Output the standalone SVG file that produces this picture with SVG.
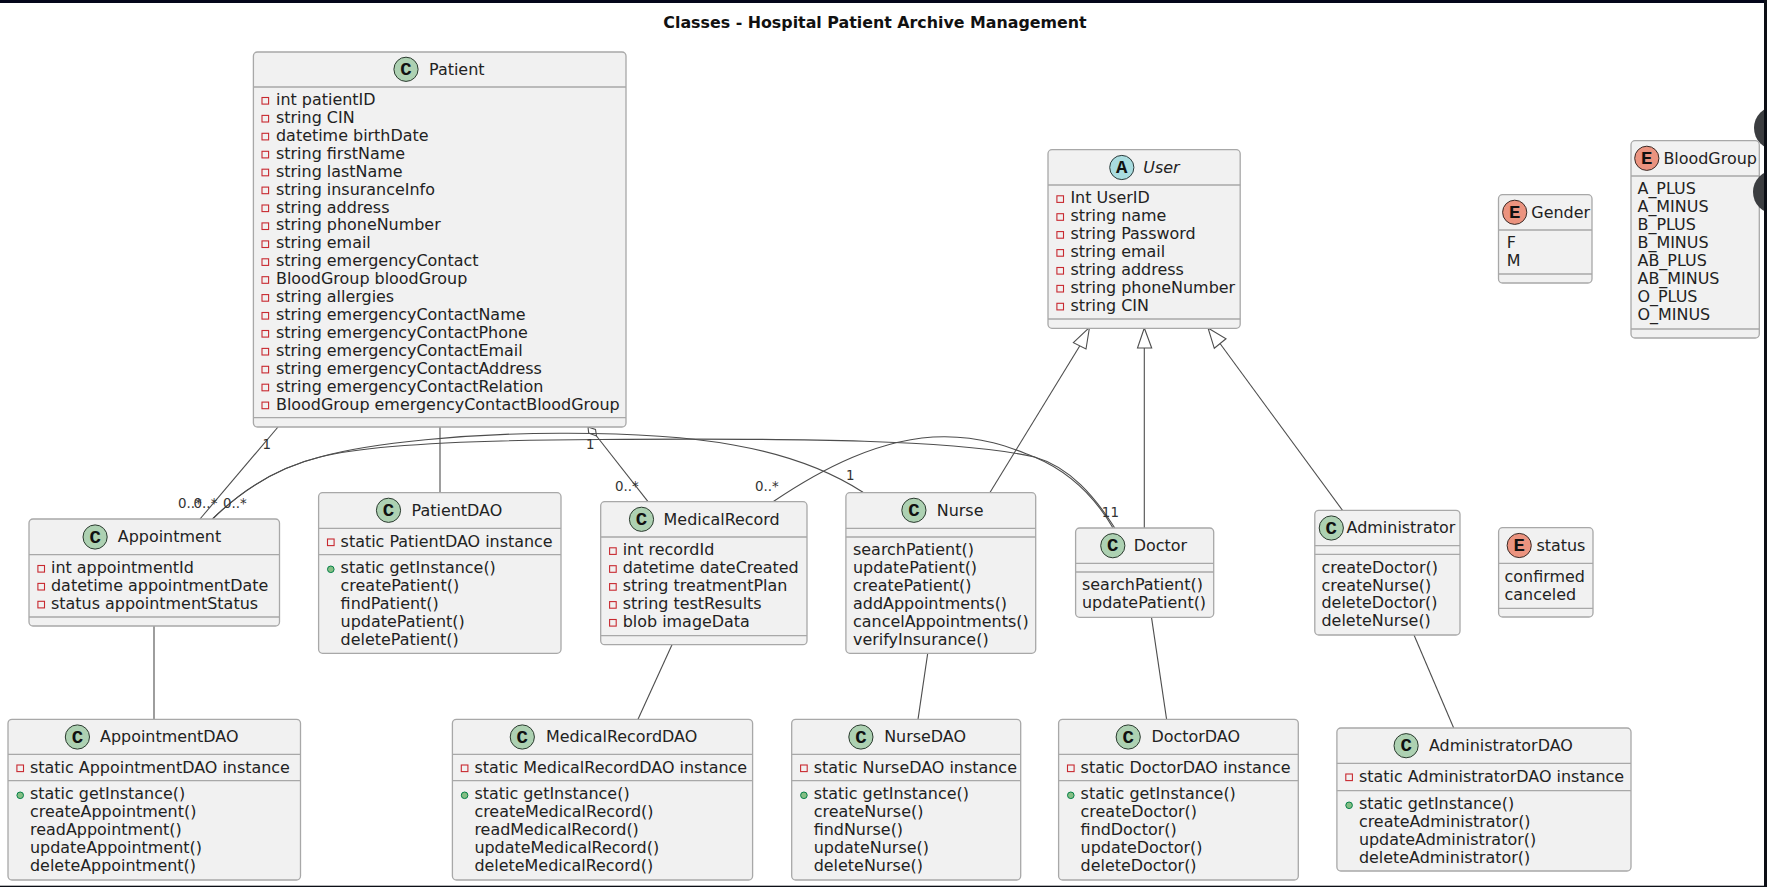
<svg xmlns="http://www.w3.org/2000/svg" width="1767" height="887" viewBox="0 0 1767 887">
<style>
text{font-family:"DejaVu Sans",sans-serif;font-size:15.95px;fill:#222}
.title{font-weight:bold;font-size:15.85px;fill:#111}
.i{font-style:italic}
.lbl{font-size:13.4px;fill:#333}
.box{fill:#F1F1F1;stroke:#a8a8a8;stroke-width:1.3}
.div{stroke:#a8a8a8;stroke-width:1.3;fill:none}
.sp{fill:#ADD1B2;stroke:#2a3a2e;stroke-width:1}
.se{fill:#EB937F;stroke:#3a2a26;stroke-width:1}
.sa{fill:#A9DCDF;stroke:#2a3a3a;stroke-width:1}
.g{font-family:"Liberation Mono",monospace;font-weight:bold;font-size:19px;text-anchor:middle;fill:#111}
.c{fill:none;stroke:#4d4d4d;stroke-width:1.1}
.h{fill:#fff;stroke:#4d4d4d;stroke-width:1.1}
</style>
<defs>
<rect id="vpriv" width="6.6" height="6.6" fill="none" stroke="#C82930" stroke-width="1.1"/>
<circle id="vpub" cx="3.3" cy="3.3" r="3.3" fill="#84BE84" stroke="#038048" stroke-width="1"/>
</defs>
<rect width="1767" height="887" fill="#fff"/>
<text class="title" x="875" y="28" text-anchor="middle">Classes - Hospital Patient Archive Management</text>

<g id="connectors">
<path class="c" d="M278,427L200,519"/>
<path class="c" d="M440,427V492.7"/>
<path class="h" d="M588,427L595.5,429.5L596.5,436L588.7,433Z"/>
<path class="c" d="M596.5,436L648,501.7"/>
<path class="c" d="M212.5,519C240,492 275,468 320,457C370,443 470,433 564,433.3C690,433 790,445 863,492.3"/>
<path class="c" d="M212.5,519C240,492 275,468 320,457C370,444 480,440 600,439.5C800,438 960,440 1034.5,457C1070,467 1095,497 1114.8,528"/>
<path class="c" d="M773,501.7C820,470 880,437 944,436.7C990,436.5 1020,452 1034.5,457C1070,472 1095,497 1113,528"/>
<path class="c" d="M989.8,492.7L1079.7,346"/>
<path class="h" d="M1089.5,327.3L1073.4,342.7L1086,349Z"/>
<path class="c" d="M1144.3,528V348"/>
<path class="h" d="M1144.3,328L1137.5,348H1151.7Z"/>
<path class="c" d="M1342.5,510.3L1220,343.5"/>
<path class="h" d="M1208,328L1226,338.7L1214.3,348.3Z"/>
<path class="c" d="M154,626V719.3"/>
<path class="c" d="M672,644.7L638,719.3"/>
<path class="c" d="M927.7,653.3L918,719.3"/>
<path class="c" d="M1151.5,617.3L1166.6,719.3"/>
<path class="c" d="M1414,635L1453.7,728"/>
<text class="lbl" x="262.5" y="449">1</text>
<text class="lbl" x="586" y="449">1</text>
<text class="lbl" x="615" y="490.7">0..*</text>
<text class="lbl" x="755" y="490.7">0..*</text>
<text class="lbl" x="846" y="480">1</text>
<text class="lbl" x="1101.7" y="516.7">1</text>
<text class="lbl" x="1110.5" y="516.7">1</text>
<text class="lbl" x="178" y="508">0..*</text>
<text class="lbl" x="193.6" y="508">0..*</text>
<text class="lbl" x="223" y="508">0..*</text>
</g>

<g id="Patient">
<rect class="box" x="253.4" y="52" width="372.6" height="375" rx="4"/>
<path class="div" d="M253.4,87H626M253.4,417.7H626"/>
<circle class="sp" cx="406" cy="69.3" r="12.1"/><text class="g" x="406" y="75">C</text>
<text x="429" y="75">Patient</text>
<use href="#vpriv" x="262" y="97.5"/><text x="276" y="105">int patientID</text>
<use href="#vpriv" x="262" y="115.4"/><text x="276" y="122.9">string CIN</text>
<use href="#vpriv" x="262" y="133.3"/><text x="276" y="140.8">datetime birthDate</text>
<use href="#vpriv" x="262" y="151.3"/><text x="276" y="158.8">string firstName</text>
<use href="#vpriv" x="262" y="169.2"/><text x="276" y="176.7">string lastName</text>
<use href="#vpriv" x="262" y="187.1"/><text x="276" y="194.6">string insuranceInfo</text>
<use href="#vpriv" x="262" y="205"/><text x="276" y="212.5">string address</text>
<use href="#vpriv" x="262" y="222.9"/><text x="276" y="230.4">string phoneNumber</text>
<use href="#vpriv" x="262" y="240.9"/><text x="276" y="248.4">string email</text>
<use href="#vpriv" x="262" y="258.8"/><text x="276" y="266.3">string emergencyContact</text>
<use href="#vpriv" x="262" y="276.7"/><text x="276" y="284.2">BloodGroup bloodGroup</text>
<use href="#vpriv" x="262" y="294.6"/><text x="276" y="302.1">string allergies</text>
<use href="#vpriv" x="262" y="312.5"/><text x="276" y="320">string emergencyContactName</text>
<use href="#vpriv" x="262" y="330.5"/><text x="276" y="338">string emergencyContactPhone</text>
<use href="#vpriv" x="262" y="348.4"/><text x="276" y="355.9">string emergencyContactEmail</text>
<use href="#vpriv" x="262" y="366.3"/><text x="276" y="373.8">string emergencyContactAddress</text>
<use href="#vpriv" x="262" y="384.2"/><text x="276" y="391.7">string emergencyContactRelation</text>
<use href="#vpriv" x="262" y="402.1"/><text x="276" y="409.6">BloodGroup emergencyContactBloodGroup</text>
</g>

<g id="Appointment">
<rect class="box" x="29" y="519" width="250.5" height="107" rx="4"/>
<path class="div" d="M29,554.7H279.5M29,617H279.5"/>
<circle class="sp" cx="95.1" cy="537" r="12.1"/><text class="g" x="95.1" y="542.7">C</text>
<text x="117.8" y="542">Appointment</text>
<use href="#vpriv" x="37.9" y="565.5"/><text x="51" y="573">int appointmentId</text>
<use href="#vpriv" x="37.9" y="583.4"/><text x="51" y="590.9">datetime appointmentDate</text>
<use href="#vpriv" x="37.9" y="601.3"/><text x="51" y="608.8">status appointmentStatus</text>
</g>

<g id="AppointmentDAO">
<rect class="box" x="8" y="719.3" width="292.5" height="160.7" rx="4"/>
<path class="div" d="M8,754.3H300.5M8,780.7H300.5"/>
<circle class="sp" cx="77.4" cy="737" r="12.1"/><text class="g" x="77.4" y="742.7">C</text>
<text x="100" y="742.3">AppointmentDAO</text>
<use href="#vpriv" x="16.9" y="765"/><text x="30" y="772.6">static AppointmentDAO instance</text>
<use href="#vpub" x="16.9" y="792"/><text x="30" y="799">static getInstance()</text>
<text x="30" y="816.9">createAppointment()</text>
<text x="30" y="834.8">readAppointment()</text>
<text x="30" y="852.8">updateAppointment()</text>
<text x="30" y="870.7">deleteAppointment()</text>
</g>

<g id="PatientDAO">
<rect class="box" x="318.6" y="492.7" width="242.4" height="160.6" rx="4"/>
<path class="div" d="M318.6,528.3H561M318.6,554.7H561"/>
<circle class="sp" cx="388.5" cy="510.3" r="12.1"/><text class="g" x="388.5" y="516">C</text>
<text x="411.6" y="515.7">PatientDAO</text>
<use href="#vpriv" x="327.5" y="539"/><text x="340.6" y="546.6">static PatientDAO instance</text>
<use href="#vpub" x="327.5" y="566"/><text x="340.6" y="573">static getInstance()</text>
<text x="340.6" y="590.9">createPatient()</text>
<text x="340.6" y="608.8">findPatient()</text>
<text x="340.6" y="626.8">updatePatient()</text>
<text x="340.6" y="644.7">deletePatient()</text>
</g>

<g id="MedicalRecord">
<rect class="box" x="600.7" y="501.7" width="206.3" height="143" rx="4"/>
<path class="div" d="M600.7,537H807M600.7,635.7H807"/>
<circle class="sp" cx="641.5" cy="519.3" r="12.1"/><text class="g" x="641.5" y="525">C</text>
<text x="663.6" y="525">MedicalRecord</text>
<use href="#vpriv" x="609.6" y="547.8"/><text x="622.7" y="555.3">int recordId</text>
<use href="#vpriv" x="609.6" y="565.7"/><text x="622.7" y="573.2">datetime dateCreated</text>
<use href="#vpriv" x="609.6" y="583.6"/><text x="622.7" y="591.1">string treatmentPlan</text>
<use href="#vpriv" x="609.6" y="601.6"/><text x="622.7" y="609.1">string testResults</text>
<use href="#vpriv" x="609.6" y="619.5"/><text x="622.7" y="627">blob imageData</text>
</g>

<g id="Nurse">
<rect class="box" x="845.9" y="492.7" width="189.8" height="160.6" rx="4"/>
<path class="div" d="M845.9,528.3H1035.7M845.9,537H1035.7"/>
<circle class="sp" cx="913.9" cy="510.3" r="12.1"/><text class="g" x="913.9" y="516">C</text>
<text x="936.8" y="515.7">Nurse</text>
<text x="853" y="555.3">searchPatient()</text>
<text x="853" y="573.2">updatePatient()</text>
<text x="853" y="591.1">createPatient()</text>
<text x="853" y="609.1">addAppointments()</text>
<text x="853" y="627">cancelAppointments()</text>
<text x="853" y="644.9">verifyInsurance()</text>
</g>

<g id="Doctor">
<rect class="box" x="1075.6" y="528" width="138.1" height="89.3" rx="4"/>
<path class="div" d="M1075.6,563.3H1213.7M1075.6,572H1213.7"/>
<circle class="sp" cx="1112.8" cy="545.7" r="12.1"/><text class="g" x="1112.8" y="551.4">C</text>
<text x="1133.7" y="551">Doctor</text>
<text x="1082" y="590.3">searchPatient()</text>
<text x="1082" y="608.2">updatePatient()</text>
</g>

<g id="Administrator">
<rect class="box" x="1314.8" y="510.3" width="145.2" height="124.7" rx="4"/>
<path class="div" d="M1314.8,545.7H1460M1314.8,554.3H1460"/>
<circle class="sp" cx="1331.3" cy="528" r="12.1"/><text class="g" x="1331.3" y="533.7">C</text>
<text x="1346.6" y="533.3">Administrator</text>
<text x="1321.5" y="572.6">createDoctor()</text>
<text x="1321.5" y="590.5">createNurse()</text>
<text x="1321.5" y="608.4">deleteDoctor()</text>
<text x="1321.5" y="626.4">deleteNurse()</text>
</g>

<g id="MedicalRecordDAO">
<rect class="box" x="452.4" y="719.3" width="300.2" height="160.7" rx="4"/>
<path class="div" d="M452.4,754.3H752.6M452.4,780.7H752.6"/>
<circle class="sp" cx="522.3" cy="737" r="12.1"/><text class="g" x="522.3" y="742.7">C</text>
<text x="545.9" y="742.3">MedicalRecordDAO</text>
<use href="#vpriv" x="461.3" y="765"/><text x="474.4" y="772.6">static MedicalRecordDAO instance</text>
<use href="#vpub" x="461.3" y="792"/><text x="474.4" y="799">static getInstance()</text>
<text x="474.4" y="816.9">createMedicalRecord()</text>
<text x="474.4" y="834.8">readMedicalRecord()</text>
<text x="474.4" y="852.8">updateMedicalRecord()</text>
<text x="474.4" y="870.7">deleteMedicalRecord()</text>
</g>

<g id="NurseDAO">
<rect class="box" x="791.7" y="719.3" width="229" height="160.7" rx="4"/>
<path class="div" d="M791.7,754.3H1020.7M791.7,780.7H1020.7"/>
<circle class="sp" cx="860.9" cy="737" r="12.1"/><text class="g" x="860.9" y="742.7">C</text>
<text x="884.2" y="742.3">NurseDAO</text>
<use href="#vpriv" x="800.6" y="765"/><text x="813.7" y="772.6">static NurseDAO instance</text>
<use href="#vpub" x="800.6" y="792"/><text x="813.7" y="799">static getInstance()</text>
<text x="813.7" y="816.9">createNurse()</text>
<text x="813.7" y="834.8">findNurse()</text>
<text x="813.7" y="852.8">updateNurse()</text>
<text x="813.7" y="870.7">deleteNurse()</text>
</g>

<g id="DoctorDAO">
<rect class="box" x="1058.6" y="719.3" width="239.7" height="160.7" rx="4"/>
<path class="div" d="M1058.6,754.3H1298.3M1058.6,780.7H1298.3"/>
<circle class="sp" cx="1128.2" cy="737" r="12.1"/><text class="g" x="1128.2" y="742.7">C</text>
<text x="1151.5" y="742.3">DoctorDAO</text>
<use href="#vpriv" x="1067.5" y="765"/><text x="1080.6" y="772.6">static DoctorDAO instance</text>
<use href="#vpub" x="1067.5" y="792"/><text x="1080.6" y="799">static getInstance()</text>
<text x="1080.6" y="816.9">createDoctor()</text>
<text x="1080.6" y="834.8">findDoctor()</text>
<text x="1080.6" y="852.8">updateDoctor()</text>
<text x="1080.6" y="870.7">deleteDoctor()</text>
</g>

<g id="AdministratorDAO">
<rect class="box" x="1336.9" y="728" width="294.1" height="143" rx="4"/>
<path class="div" d="M1336.9,763.3H1631M1336.9,790.7H1631"/>
<circle class="sp" cx="1406.1" cy="745.7" r="12.1"/><text class="g" x="1406.1" y="751.4">C</text>
<text x="1429" y="751">AdministratorDAO</text>
<use href="#vpriv" x="1345.8" y="774"/><text x="1358.9" y="781.6">static AdministratorDAO instance</text>
<use href="#vpub" x="1345.8" y="802"/><text x="1358.9" y="809">static getInstance()</text>
<text x="1358.9" y="826.9">createAdministrator()</text>
<text x="1358.9" y="844.8">updateAdministrator()</text>
<text x="1358.9" y="862.8">deleteAdministrator()</text>
</g>

<g id="User">
<rect class="box" x="1048" y="149.7" width="192.2" height="178.6" rx="4"/>
<path class="div" d="M1048,185H1240.2M1048,319H1240.2"/>
<circle class="sa" cx="1121.8" cy="167.5" r="12.1"/><text class="g" x="1121.8" y="173.2">A</text>
<text class="i" x="1143.3" y="173">User</text>
<use href="#vpriv" x="1056.9" y="195.8"/><text x="1070.4" y="203.3">Int UserID</text>
<use href="#vpriv" x="1056.9" y="213.7"/><text x="1070.4" y="221.2">string name</text>
<use href="#vpriv" x="1056.9" y="231.6"/><text x="1070.4" y="239.1">string Password</text>
<use href="#vpriv" x="1056.9" y="249.6"/><text x="1070.4" y="257.1">string email</text>
<use href="#vpriv" x="1056.9" y="267.5"/><text x="1070.4" y="275">string address</text>
<use href="#vpriv" x="1056.9" y="285.4"/><text x="1070.4" y="292.9">string phoneNumber</text>
<use href="#vpriv" x="1056.9" y="303.3"/><text x="1070.4" y="310.8">string CIN</text>
</g>

<g id="Gender">
<rect class="box" x="1498.5" y="194.7" width="93.5" height="88.3" rx="4"/>
<path class="div" d="M1498.5,230H1592M1498.5,274H1592"/>
<circle class="se" cx="1514.7" cy="212.3" r="12.1"/><text class="g" x="1514.7" y="218">E</text>
<text x="1531.3" y="217.7">Gender</text>
<text x="1506.8" y="248.3">F</text>
<text x="1506.8" y="266.2">M</text>
</g>

<g id="BloodGroup">
<rect class="box" x="1631" y="140.7" width="128.3" height="197.3" rx="4"/>
<path class="div" d="M1631,176H1759.3M1631,329H1759.3"/>
<circle class="se" cx="1646.8" cy="158.3" r="12.1"/><text class="g" x="1646.8" y="164">E</text>
<text x="1663.4" y="163.7">BloodGroup</text>
<text x="1637.5" y="194.3">A_PLUS</text>
<text x="1637.5" y="212.2">A_MINUS</text>
<text x="1637.5" y="230.1">B_PLUS</text>
<text x="1637.5" y="248.1">B_MINUS</text>
<text x="1637.5" y="266">AB_PLUS</text>
<text x="1637.5" y="283.9">AB_MINUS</text>
<text x="1637.5" y="301.8">O_PLUS</text>
<text x="1637.5" y="319.7">O_MINUS</text>
</g>

<g id="status">
<rect class="box" x="1498.6" y="527.7" width="94.4" height="89.3" rx="4"/>
<path class="div" d="M1498.6,563.3H1593M1498.6,608.3H1593"/>
<circle class="se" cx="1519.2" cy="545.5" r="12.1"/><text class="g" x="1519.2" y="551.2">E</text>
<text x="1536.4" y="551">status</text>
<text x="1504.6" y="581.6">confirmed</text>
<text x="1504.6" y="599.5">canceled</text>
</g>

<circle cx="1776" cy="128" r="22" fill="#3b3d40"/>
<circle cx="1775" cy="192" r="22" fill="#3b3d40"/>
<rect width="1767" height="3" fill="#03061a"/>
<rect x="1764" width="3" height="887" fill="#0c0f16"/>
<rect y="885.7" width="1767" height="1.3" fill="#0c0f16"/>
</svg>
